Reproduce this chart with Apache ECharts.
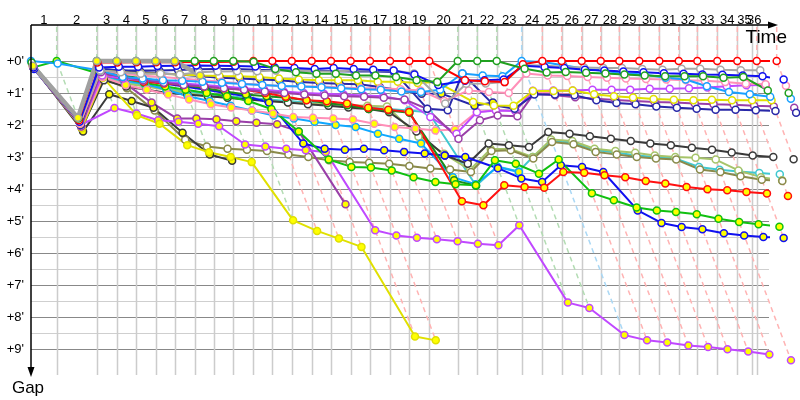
<!DOCTYPE html>
<html><head><meta charset="utf-8">
<script src="https://cdn.jsdelivr.net/npm/echarts@6/dist/echarts.min.js"></script>
<style>html,body{margin:0;padding:0;background:#fff}#c{width:800px;height:400px}</style>
</head><body><div id="c"></div>
<script>
// ---------- DATA ----------
// leader crossing time (minutes) for lap index 0..36
const leaderTimes = [0,2.14,5.48,7.14,8.75,10.39,11.98,13.64,15.23,16.86,18.53,20.11,21.73,23.39,25.0,26.64,28.25,29.92,31.53,33.19,35.56,37.19,38.81,40.89,42.61,44.22,45.89,47.48,49.03,50.69,52.36,53.98,55.53,57.19,58.86,60.48,62.14];
// vertical lap lines (minutes) and their labels
const lapLineTimes = [2.14,5.48,7.14,8.75,10.39,11.98,13.64,15.23,16.86,18.53,20.11,21.73,23.39,25.0,26.64,28.25,29.92,31.53,33.19,35.56,37.19,38.81,40.89,42.61,44.22,45.89,47.48,49.03,50.69,52.36,53.98,55.53,57.19,58.86,60.06,60.48];
const lapLabels = ['1','2','3','4','5','6','7','8','9','10','11','12','13','14','15','16','17','18','19','20','21','22','23','24','25','26','27','28','29','30','31','32','33','34','35','36'];
const gapGridTicks = [0,0.5,1,1.5,2,2.5,3,3.5,4,4.5,5,5.5,6,6.5,7,7.5,8,8.5,9];
const gapLabelValues = [0,1,2,3,4,5,6,7,8,9];
const gapLabels = ["+0'","+1'","+2'","+3'","+4'","+5'","+6'","+7'","+8'","+9'"];

// gap (minutes) to the leader, per lap index 0..36
const gapTurq   = [0.2,2.0,0.5,0.65,0.75,0.85,0.95,1.05,1.1,1.15,1.2,1.25,1.3,1.35,1.4,1.45,1.5,1.55,1.6,3.9,3.3,3.45,3.0,2.5,2.55,2.78,2.86,2.95,3.0,3.05,3.31,3.4,3.45,3.5,3.54,null,null];
const gapLtGreen= [0.2,2.0,0.55,0.7,0.8,0.9,1.0,1.1,1.15,1.2,1.25,1.3,1.33,1.35,1.38,1.4,1.42,2.37,2.9,3.4,2.75,2.75,3.0,2.45,2.5,2.74,2.81,2.87,2.95,3.0,3.02,3.08,3.42,3.63,3.73,null,null];
const gapOlive  = [0.2,2.1,0.55,0.85,1.55,2.46,2.67,2.74,2.77,2.81,2.92,3.0,3.1,3.16,3.18,3.21,3.28,3.36,3.39,3.47,2.81,2.79,3.05,2.53,2.6,2.84,2.92,3.0,3.05,3.08,3.39,3.47,3.6,3.71,3.75,null,null];
const gapBlack1 = [0.2,2.1,0.6,0.8,0.9,1.0,1.05,1.1,1.15,1.2,1.25,1.3,1.35,1.4,1.45,1.5,1.6,2.2,2.95,3.21,2.58,2.63,2.69,2.22,2.27,2.35,2.43,2.5,2.58,2.63,2.71,2.77,2.86,2.95,3.0,3.07,null];
const gapBlack2 = [0.2,2.2,1.04,1.25,1.46,2.24,2.92,3.12,null,null,null,null,null,null,null,null,null,null,null,null,null,null,null,null,null,null,null,null,null,null,null,null,null,null,null,null,null];
const gapPurple2= [0.2,2.0,0.15,0.7,1.3,1.8,1.8,1.82,1.88,1.93,1.98,2.2,4.48,null,null,null,null,null,null,null,null,null,null,null,null,null,null,null,null,null,null,null,null,null,null,null,null];
const gapViolet2= [0.2,2.0,1.47,1.64,1.85,1.9,1.96,2.04,2.61,2.67,2.74,2.79,2.84,5.29,5.45,5.52,5.57,5.63,5.71,5.76,5.13,7.55,7.72,8.56,8.73,8.8,8.89,8.94,9.01,9.08,9.17,9.35,null,null,null,null,null];
const gapYellow2= [0.2,2.1,0.52,1.7,1.96,2.63,2.85,3.0,3.16,4.98,5.31,5.55,5.81,8.61,8.73,null,null,null,null,null,null,null,null,null,null,null,null,null,null,null,null,null,null,null,null,null,null];
const gapLtBlue2= [0.2,2.0,0.45,0.6,0.71,0.9,1.1,1.25,1.4,1.55,1.7,1.8,1.9,2.0,2.06,2.27,2.43,2.58,3.63,3.85,3.31,3.47,null,null,null,null,null,null,null,null,null,null,null,null,null,null,null];
const gapBlue2  = [0.25,2.0,0.35,0.5,0.6,0.7,0.8,0.9,1.0,1.1,1.3,2.58,2.74,2.77,2.74,2.79,2.84,2.89,2.95,3.0,3.35,3.67,3.78,3.26,3.31,3.47,4.67,5.06,5.19,5.26,5.38,5.45,5.5,5.53,null,null,null];
const gapGreen3 = [0.2,1.9,0.3,0.45,0.55,0.65,0.75,0.85,0.95,1.05,1.1,1.15,1.22,1.32,1.38,1.5,1.55,1.62,3.73,3.9,null,null,null,null,null,null,null,null,null,null,null,null,null,null,null,null,null];
const gapGreen2 = [0.2,0,0.42,0.55,0.68,0.8,0.9,1.0,1.1,1.25,1.5,2.2,3.08,3.31,3.33,3.42,3.63,3.78,3.85,3.88,3.1,3.21,3.52,3.08,4.13,4.35,4.58,4.67,4.72,4.79,4.93,5.03,5.1,5.18,null,null,null];
const gapRed2   = [0.2,2.0,0.45,0.55,0.65,0.7,0.75,0.8,0.85,0.9,1.0,1.12,1.23,1.26,1.33,1.46,1.52,1.59,4.38,4.51,3.88,3.94,3.96,3.47,3.49,3.57,3.63,3.75,3.83,3.94,4.01,4.04,4.09,4.14,4.22,null,null];
const gapPink2  = [0.2,2.05,0.5,0.75,0.9,1.05,1.2,1.35,1.45,1.55,1.64,1.75,1.77,1.8,1.83,1.96,2.06,2.11,2.17,2.14,1.59,1.54,1.56,0.97,1.0,1.07,null,null,null,null,null,null,null,null,null,null,null];
const gapViolet1= [0.2,2.0,0.45,0.55,0.6,0.65,0.7,0.75,0.8,0.85,0.9,0.95,1.0,1.02,1.05,1.08,1.1,1.23,1.75,2.27,1.6,1.55,1.56,0.93,0.92,0.92,0.9,0.9,0.9,0.87,0.87,0.85,0.83,0.79,0.76,0.75,null];
const gapPurple1= [0.2,2.05,0.35,0.5,0.6,0.68,0.75,0.8,0.85,0.9,0.95,1.0,1.05,1.08,1.1,1.12,1.15,1.2,1.5,2.43,1.85,1.7,1.73,1.02,1.07,1.13,1.18,1.22,1.25,1.28,1.3,1.33,1.35,1.37,1.4,1.42,1.46];
const gapNavy1  = [0.2,1.95,0.25,0.3,0.3,0.3,0.28,0.26,0.25,0.25,0.27,0.28,0.3,0.3,0.32,0.33,0.33,0.34,1.49,1.54,0.39,1.38,1.49,1.05,1.05,1.07,1.23,1.31,1.35,1.42,1.46,1.49,1.52,1.52,1.54,1.56,1.62];
const gapNavy2  = [0.2,2.0,0.25,0.29,0.34,0.38,0.42,0.48,0.52,0.55,0.58,0.6,0.66,0.69,0.71,0.73,0.81,0.92,1.02,1.02,1.4,1.3,null,null,null,null,null,null,null,null,null,null,null,null,null,null,null];
const gapYellow1= [0.2,1.95,0.3,0.35,0.38,0.4,0.42,0.45,0.47,0.48,0.5,0.55,0.58,0.6,0.6,0.6,0.65,0.65,0.69,0.66,1.28,1.39,1.4,0.94,0.94,0.92,1.04,1.1,1.14,1.19,1.21,1.23,1.21,1.23,1.23,1.23,null];
const gapPink1  = [0.2,1.95,0.3,0.4,0.45,0.5,0.55,0.6,0.65,0.7,0.75,0.78,0.8,0.8,0.83,0.85,0.85,0.88,0.92,1.25,0.92,0.97,1.0,0.39,0.45,0.47,0.5,0.52,0.55,0.56,0.58,0.6,0.62,0.66,0.71,0.73,0.77];
const gapLtBlue1= [0,0.08,0.3,0.5,0.55,0.6,0.62,0.65,0.68,0.72,0.75,0.78,0.8,0.82,0.85,0.88,0.9,0.95,0.97,0.9,0.39,0.45,0.48,0,0.03,0.13,0.24,0.31,0.38,0.42,0.52,0.58,0.79,0.97,1.04,1.12,1.18];
const gapGray1  = [0.2,1.9,0.3,0.35,0.4,0.4,0.42,0.35,0.33,0.32,0.32,0.3,0.3,0.32,0.33,0.3,0.3,0.3,0.39,1.33,0.71,0.7,0.66,0.13,0.14,0.19,0.2,0.22,0.22,0.25,0.27,0.24,0.24,0.27,0.29,0.29,null];
const gapBlue1  = [0.2,1.9,0.2,0.18,0.18,0.16,0.15,0.14,0.15,0.16,0.17,0.2,0.22,0.25,0.22,0.25,0.27,0.3,0.42,0.75,0.62,0.6,0.58,0.15,0.19,0.22,0.27,0.3,0.33,0.35,0.38,0.4,0.42,0.43,0.45,0.48,0.58];
const gapRed1   = [0.15,1.85,0.05,0.05,0.04,0.04,0.04,0.03,0.03,0.02,0,0,0,0,0,0,0,0,0,0,0.6,0.63,0.66,0.1,0,0,0,0,0,0,0,0,0,0,0,0,0];
const gapGreen1 = [0.05,1.8,0,0,0,0,0,0,0,0,0.02,0.25,0.35,0.4,0.4,0.45,0.45,0.5,0.6,0.66,0,0,0,0.24,0.36,0.34,0.37,0.39,0.42,0.45,0.48,0.48,0.48,0.52,0.5,0.92,1.0];
const gapGray2  = [0.15,1.77,0,0,0,0,0,0.45,null,null,null,null,null,null,null,null,null,null,null,null,null,null,null,null,null,null,null,null,null,null,null,null,null,null,null,null,null];

// ---------- STYLES ----------
const W = '#ffffff', Yf = '#ffff00';
const drivers = [
  {g:gapTurq,    c:'#40c8d0', f:W},
  {g:gapLtGreen, c:'#a6c46a', f:W},
  {g:gapOlive,   c:'#8a8a4a', f:W},
  {g:gapBlack1,  c:'#3a3a3a', f:W},
  {g:gapBlack2,  c:'#3a3a3a', f:Yf},
  {g:gapPurple2, c:'#9a3fa8', f:Yf},
  {g:gapViolet2, c:'#c048ff', f:Yf},
  {g:gapYellow2, c:'#e0e000', f:Yf},
  {g:gapLtBlue2, c:'#10a8ff', f:Yf},
  {g:gapBlue2,   c:'#1010f0', f:Yf},
  {g:gapGreen3,  c:'#1a8c1a', f:Yf},
  {g:gapGreen2,  c:'#10c010', f:Yf, light:'#b3dcb3'},
  {g:gapRed2,    c:'#ff1010', f:Yf},
  {g:gapPink2,   c:'#ff8fb8', f:Yf},
  {g:gapViolet1, c:'#c048ff', f:W},
  {g:gapPurple1, c:'#9a3fa8', f:W},
  {g:gapNavy1,   c:'#2828a8', f:W},
  {g:gapNavy2,   c:'#2828a8', f:Yf},
  {g:gapYellow1, c:'#e0e000', f:W},
  {g:gapPink1,   c:'#ff8fb8', f:W},
  {g:gapLtBlue1, c:'#18a0ff', f:W, light:'#aad8f5'},
  {g:gapGray1,   c:'#a8a8a8', f:W},
  {g:gapBlue1,   c:'#1010f0', f:W},
  {g:gapRed1,    c:'#ff0000', f:W, light:'#ffb3b3'},
  {g:gapGreen1,  c:'#20a020', f:W, light:'#b3dcb3'},
  {g:gapGray2,   c:'#a0a0a0', f:Yf, w:4.5, light:'#b3dcb3'}
];

const Y_MIN = -1.125, Y_MAX = 9.8125, X_MAX = 61.5;
const FONT = 'Liberation Sans, Arial, sans-serif';

// lap dashed lines: leader (min gap) and last car (max gap) per lap
const lapDash = [];
for (let n = 1; n < leaderTimes.length; n++) {
  let gmax = -Infinity, gmin = Infinity, lead = -1;
  drivers.forEach((d, i) => {
    const g = d.g[n];
    if (g == null) return;
    if (g > gmax) gmax = g;
    if (g < gmin) { gmin = g; lead = i; }
  });
  lapDash.push([leaderTimes[n], gmax, lead]);
}

const driverSeries = drivers.map((d, i) => {
  const pts = [];
  d.g.forEach((g, lap) => { if (g != null) pts.push([leaderTimes[lap] + g, g]); });
  return {
    type: 'line', data: pts, clip: false, z: 5, silent: true,
    symbol: 'circle', symbolSize: 7, showAllSymbol: true,
    lineStyle: {color: d.c, width: d.w || 2},
    itemStyle: {color: d.f, borderColor: d.c, borderWidth: 1.5},
    emphasis: {disabled: true}
  };
});

const chart = echarts.init(document.getElementById('c'));
chart.setOption({
  animation: false,
  grid: {left: 31, top: 25, width: 738, height: 350},
  xAxis: {type: 'value', min: 0, max: X_MAX, show: false},
  yAxis: {type: 'value', inverse: true, min: Y_MIN, max: Y_MAX, show: false},
  series: [
    { // horizontal grid
      type: 'custom', silent: true, z: 1, clip: false,
      data: gapGridTicks.map(v => [0, v]),
      renderItem: (p, api) => {
        const v = api.value(1);
        const a = api.coord([0, v]), b = api.coord([X_MAX, v]);
        const y = Math.round(a[1]) + 0.5;
        const major = Math.abs(v - Math.round(v)) < 1e-6;
        return {type: 'line', shape: {x1: a[0], y1: y, x2: b[0], y2: y},
          style: {stroke: major ? '#888888' : '#cfcfcf', lineWidth: 1.2}};
      }
    },
    { // vertical lap lines + labels
      type: 'custom', silent: true, z: 1, clip: false,
      data: lapLineTimes.map((t, i) => [t, i]),
      renderItem: (p, api) => {
        const t = api.value(0), i = api.value(1);
        const prev = i === 0 ? 0 : lapLineTimes[i - 1];
        const a = api.coord([t, Y_MIN]), b = api.coord([t, Y_MAX]);
        const m = api.coord([(prev + t) / 2, Y_MIN]);
        const x = Math.round(a[0]) + 0.5;
        return {type: 'group', children: [
          {type: 'line', shape: {x1: x, y1: a[1], x2: x, y2: b[1]}, style: {stroke: '#cccccc', lineWidth: 1.5}},
          {type: 'text', style: {text: lapLabels[i], x: m[0], y: m[1] - 5, align: 'center', verticalAlign: 'middle', font: '13px ' + FONT, fill: '#000'}}
        ]};
      }
    },
    { // dashed lap lines
      type: 'custom', silent: true, z: 2, clip: false,
      data: lapDash,
      renderItem: (p, api) => {
        const t = api.value(0), gmax = api.value(1), lead = api.value(2);
        const top = api.coord([t, Y_MIN]), z0 = api.coord([t, 0]), e = api.coord([t + gmax, gmax]);
        const col = drivers[lead].light || '#dddddd';
        return {type: 'polyline', shape: {points: [[top[0], top[1] + 2], z0, e]},
          style: {stroke: col, lineWidth: 1.5, lineDash: [5, 4], fill: null}};
      }
    },
    ...driverSeries,
    { // y tick labels
      type: 'custom', silent: true, z: 6, clip: false,
      data: gapLabelValues.map((v, i) => [0, v, i]),
      renderItem: (p, api) => {
        const a = api.coord([0, api.value(1)]);
        return {type: 'text', style: {text: gapLabels[api.value(2)], x: a[0] - 7, y: a[1], align: 'right', verticalAlign: 'middle', font: '13px ' + FONT, fill: '#000'}};
      }
    },
    { // axes with arrows
      type: 'custom', silent: true, z: 7, clip: false,
      data: [[0, Y_MIN]],
      renderItem: (p, api) => {
        const o = api.coord([0, Y_MIN]);
        const xe = api.coord([X_MAX, Y_MIN]);
        const ye = api.coord([0, Y_MAX]);
        const xt = xe[0] + 9, yt = ye[1] + 2;
        return {type: 'group', children: [
          {type: 'line', shape: {x1: o[0], y1: o[1], x2: xt - 6, y2: o[1]}, style: {stroke: '#000', lineWidth: 1.5}},
          {type: 'polygon', shape: {points: [[xt, o[1]], [xt - 10, o[1] - 3.5], [xt - 10, o[1] + 3.5]]}, style: {fill: '#000'}},
          {type: 'line', shape: {x1: o[0], y1: o[1], x2: o[0], y2: yt - 6}, style: {stroke: '#000', lineWidth: 1.5}},
          {type: 'polygon', shape: {points: [[o[0], yt], [o[0] - 3.5, yt - 10], [o[0] + 3.5, yt - 10]]}, style: {fill: '#000'}},
          {type: 'text', style: {text: 'Time', x: xt + 9, y: o[1] + 13, align: 'right', verticalAlign: 'middle', font: '19px ' + FONT, fill: '#000'}},
          {type: 'text', style: {text: 'Gap', x: o[0] - 3, y: yt + 11, align: 'center', verticalAlign: 'middle', font: '17px ' + FONT, fill: '#000'}}
        ]};
      }
    }
  ]
});
</script>
</body></html>
